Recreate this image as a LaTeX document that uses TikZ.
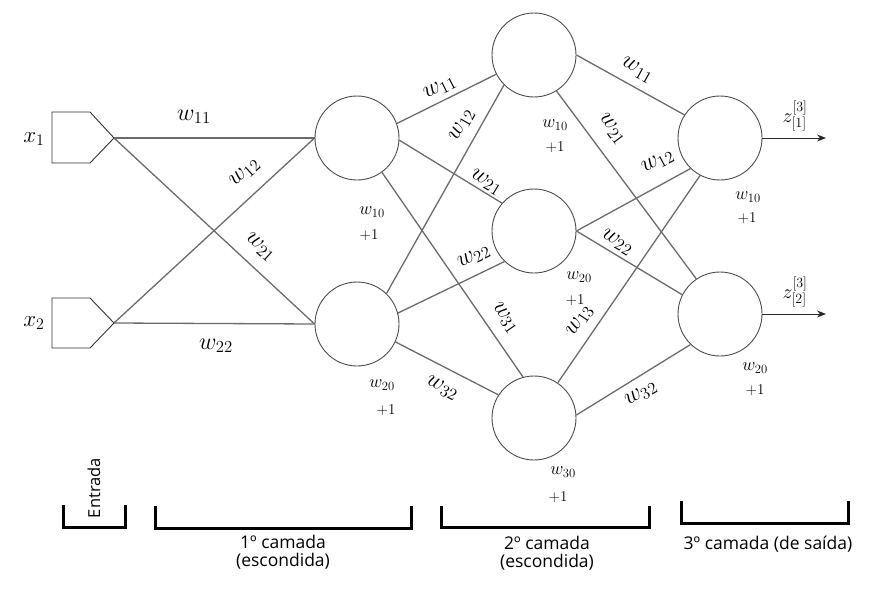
\RequirePackage{fix-cm}
\documentclass[tikz,border=0pt]{standalone}
\usepackage{fontspec}
\newfontfamily\osans{Open Sans}
\usetikzlibrary{arrows.meta}
\begin{document}
\begin{tikzpicture}[x=1pt,y=-1pt,
  neuron/.style={circle,draw=black!70,line width=0.9pt,minimum size=84pt,inner sep=0pt},
  conn/.style={draw=black!58,line width=1.3pt},
  inshape/.style={draw=black!80,line width=0.9pt,line join=miter},
  wlab/.style={font=\fontsize{24}{27}\selectfont,inner sep=0pt},
  xlab/.style={font=\fontsize{23}{26}\selectfont,inner sep=0pt},
  blab/.style={font=\fontsize{18}{20}\selectfont,inner sep=0pt},
  plab/.style={font=\fontsize{15}{17}\selectfont,inner sep=0pt},
  zlab/.style={font=\fontsize{20}{22}\selectfont,inner sep=0pt},
  brk/.style={draw=black,line width=3pt,line join=miter},
  lyrlab/.style={font=\osans\fontsize{17.5}{18.5}\selectfont,align=center,inner sep=0pt},
  outarrow/.style={draw=black!85,line width=1pt,-{Stealth[length=9pt,width=7pt]}}
]
\useasboundingbox (0,0) rectangle (883,594);

% input shapes
\coordinate (in1) at (114,138);
\coordinate (in2) at (114,323);
\draw[inshape] (in1) -- ++(-24,-26) -- ++(-38,0) -- ++(0,51) -- ++(38,0) -- cycle;
\draw[inshape] (in2) -- ++(-24,-25) -- ++(-38,0) -- ++(0,50) -- ++(38,0) -- cycle;
\node[xlab] (x1) at (34,139) {$x_1$};
\node[xlab] (x2) at (34,323) {$x_2$};

% neurons
\node[neuron] (l1a) at (357,138) {};
\node[neuron] (l1b) at (357,324) {};
\node[neuron] (l2a) at (534,55) {};
\node[neuron] (l2b) at (534,231) {};
\node[neuron] (l2c) at (534,418) {};
\node[neuron] (l3a) at (720,138) {};
\node[neuron] (l3b) at (720,314) {};

% input -> layer 1
\draw[conn] (in1) -- (l1a.west);
\draw[conn] (in1) -- (l1b.west);
\draw[conn] (in2) -- (l1a.west);
\draw[conn] (in2) -- (l1b.west);

% layer 1 -> layer 2
\draw[conn] (l1a.20) -- (l2a.207);
\draw[conn] (l1a.-3) -- (l2b.139);
\draw[conn] (l1a.-54) -- (l2c.105);
\draw[conn] (l1b.46) -- (l2a.225);
\draw[conn] (l1b.15) -- (l2b.226);
\draw[conn] (l1b.-25) -- (l2c.147);

% layer 2 -> layer 3
\draw[conn] (l2a.0) -- (l3a.147);
\draw[conn] (l2a.-58) -- (l3b.124);
\draw[conn] (l2b.0) -- (l3a.226);
\draw[conn] (l2b.0) -- (l3b.153);
\draw[conn] (l2c.56) -- (l3a.242);
\draw[conn] (l2c.4) -- (l3b.226);

% outputs
\coordinate (out1) at (826,138);
\coordinate (out2) at (826,314);
\draw[outarrow] (l3a.east) -- (out1);
\draw[outarrow] (l3b.east) -- (out2);
\node[zlab] (z1) at (795,116) {$z^{[3]}_{[1]}$};
\node[zlab] (z2) at (795,292) {$z^{[3]}_{[2]}$};

% weight labels input -> layer 1
\node[wlab] (a11) at (194,117) {$w_{11}$};
\node[wlab,rotate=42] (a12) at (245,173) {$w_{12}$};
\node[wlab,rotate=-42] (a21) at (260,247) {$w_{21}$};
\node[wlab] (a22) at (216,346) {$w_{22}$};

% weight labels layer 1 -> layer 2
\node[wlab,rotate=26.6] (b11) at (440,88) {$w_{11}$};
\node[wlab,rotate=60.6] (b12) at (462,125) {$w_{12}$};
\node[wlab,rotate=-31] (b21) at (486,182) {$w_{21}$};
\node[wlab,rotate=26] (b22) at (474,257) {$w_{22}$};
\node[wlab,rotate=-55] (b31) at (505,318) {$w_{31}$};
\node[wlab,rotate=-27] (b32) at (442,388) {$w_{32}$};

% weight labels layer 2 -> layer 3
\node[wlab,rotate=-29] (c11) at (637,70) {$w_{11}$};
\node[wlab,rotate=-53] (c21) at (612,129) {$w_{21}$};
\node[wlab,rotate=28] (c12) at (658,162) {$w_{12}$};
\node[wlab,rotate=-31] (c22) at (617,242) {$w_{22}$};
\node[wlab,rotate=56] (c13) at (580,321) {$w_{13}$};
\node[wlab,rotate=30] (c32) at (641,394) {$w_{32}$};

% bias labels
\node[blab] (bl1a) at (372,212) {$w_{10}$};
\node[plab] (pl1a) at (369,235) {$+1$};
\node[blab] (bl1b) at (382,385) {$w_{20}$};
\node[plab] (pl1b) at (386,410) {$+1$};
\node[blab] (bl2a) at (555,125) {$w_{10}$};
\node[plab] (pl2a) at (555,147) {$+1$};
\node[blab] (bl2b) at (579,277) {$w_{20}$};
\node[plab] (pl2b) at (575,300) {$+1$};
\node[blab] (bl2c) at (563,472) {$w_{30}$};
\node[plab] (pl2c) at (558,497) {$+1$};
\node[blab] (bl3a) at (748,197) {$w_{10}$};
\node[plab] (pl3a) at (747,218) {$+1$};
\node[blab] (bl3b) at (755,368) {$w_{20}$};
\node[plab] (pl3b) at (755,390) {$+1$};

% brackets
\draw[brk] (63,505) |- (125,527) -- (125,505);
\draw[brk] (155,506) |- (411,528) -- (411,506);
\draw[brk] (441,506) |- (649,527) -- (649,506);
\draw[brk] (681,501) |- (848,523) -- (848,501);

\node[lyrlab,rotate=90,font=\osans\fontsize{16.5}{19}\selectfont] (ent) at (94,488) {Entrada};
\node[lyrlab] (lay1) at (283,552) {1º camada\\(escondida)};
\node[lyrlab] (lay2) at (547,553) {2º camada\\(escondida)};
\node[lyrlab] (lay3) at (768,544) {3º camada (de saída)};
\end{tikzpicture}
\end{document}
